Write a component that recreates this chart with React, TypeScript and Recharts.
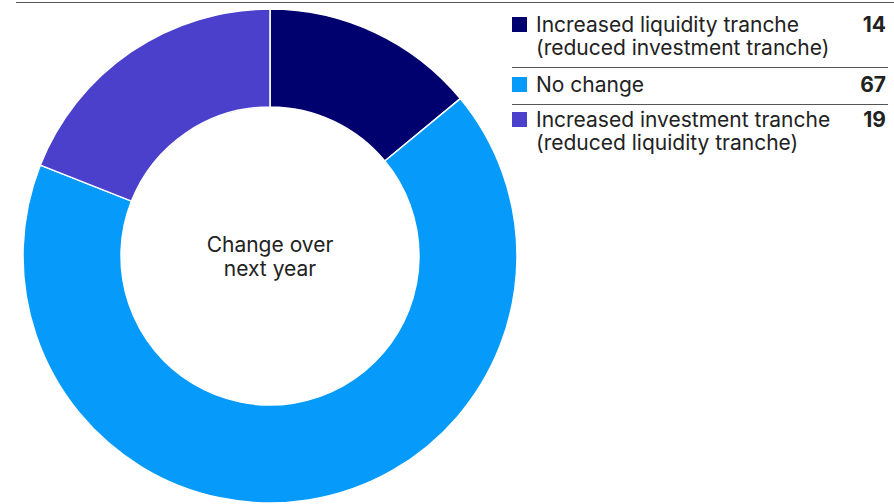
import React from 'react';
import { PieChart, Pie, Cell, Legend, Label } from 'recharts';

const CATEGORIES = [
  'Increased liquidity tranche\n(reduced investment tranche)',
  'No change',
  'Increased investment tranche\n(reduced liquidity tranche)',
];
const VALUES = [14, 67, 19];
const COLORS = ['#00006e', '#069bfa', '#4a40cc'];

const data = CATEGORIES.map((name, i) => ({ name, value: VALUES[i] }));

const FONT = 'Inter, Roboto, "Noto Sans", sans-serif';
// vertical padding of each legend row [top, bottom]
const ROW_PAD = [[10, 8], [5, 8], [3, 0]];

const LegendList = () => (
  <div style={{ width: 376, fontFamily: FONT, fontSize: 21, color: '#222', lineHeight: '23px' }}>
    {data.map((d, i) => (
      <div
        key={d.name}
        style={{
          display: 'flex',
          alignItems: 'flex-start',
          paddingTop: ROW_PAD[i][0],
          paddingBottom: ROW_PAD[i][1],
          borderBottom: i < data.length - 1 ? '1px solid #555' : 'none',
        }}
      >
        <span style={{ width: 15, height: 15, background: COLORS[i], marginTop: 4, marginRight: 9, flexShrink: 0 }} />
        <span style={{ flex: 1, whiteSpace: 'pre-line' }}>{d.name}</span>
        <span style={{ fontWeight: 700, marginRight: 2 }}>{d.value}</span>
      </div>
    ))}
  </div>
);

export default function App() {
  return (
    <div style={{ position: 'absolute', left: 0, top: 0, width: 894, height: 504, background: '#fff', overflow: 'hidden' }}>
      <div style={{ position: 'absolute', left: 16, right: 0, top: 2, borderTop: '1.5px solid #555' }} />
      <PieChart width={894} height={504} margin={{ top: 0, right: 0, bottom: 0, left: 0 }}>
        <Pie
          data={data}
          dataKey="value"
          nameKey="name"
          cx={270}
          cy={256}
          innerRadius={149}
          outerRadius={247}
          startAngle={90}
          endAngle={-270}
          stroke="#fff"
          strokeWidth={1.5}
          isAnimationActive={false}
        >
          {data.map((d, i) => (
            <Cell key={d.name} fill={COLORS[i]} />
          ))}
          <Label
            position="center"
            content={() => (
              <text x={270} textAnchor="middle" fontFamily={FONT} fontSize={21} fill="#222">
                <tspan x={270} y={252}>Change over</tspan>
                <tspan x={270} y={276}>next year</tspan>
              </text>
            )}
          />
        </Pie>
        <Legend
          layout="vertical"
          verticalAlign="top"
          align="right"
          content={() => <LegendList />}
          wrapperStyle={{ position: 'absolute', left: 512, top: 3, width: 376 }}
        />
      </PieChart>
    </div>
  );
}
